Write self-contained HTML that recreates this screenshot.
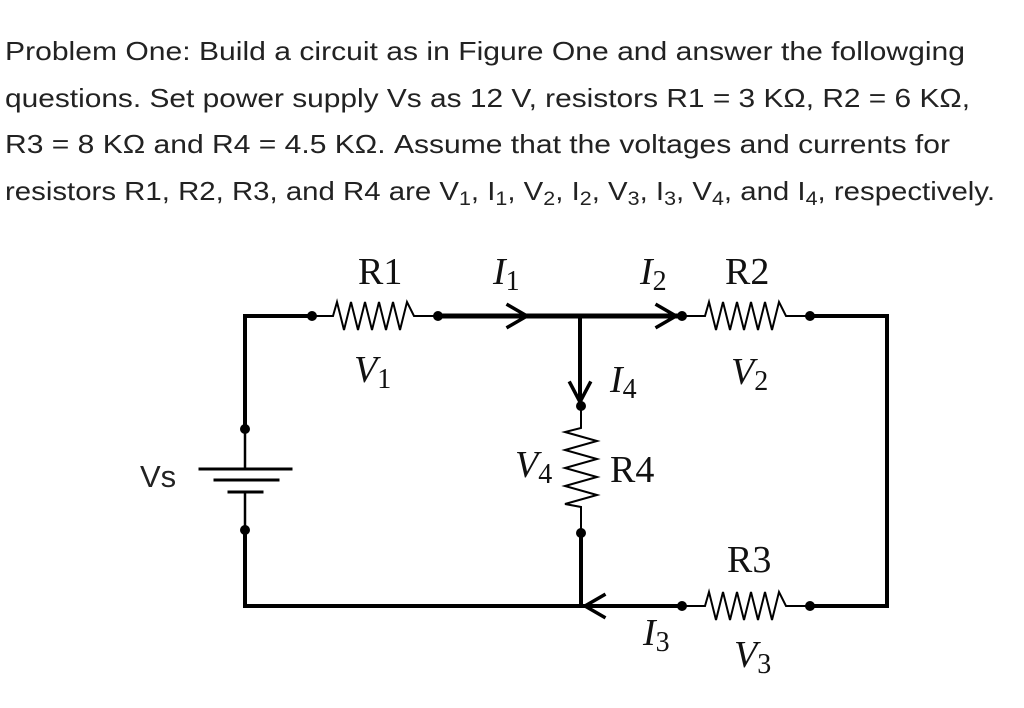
<!DOCTYPE html>
<html><head><meta charset="utf-8"><style>
body{margin:0;background:#fff;width:1024px;height:708px;overflow:hidden}
svg{display:block}
.t{font-family:"Liberation Sans",sans-serif;font-size:26px;fill:#222}
.s{font-family:"Liberation Serif",serif;font-size:38px;fill:#111}
.i{font-family:"Liberation Serif",serif;font-size:38px;font-style:italic;fill:#111}
.sub{font-style:normal;font-size:28px}
</style></head><body>
<svg width="1024" height="708" viewBox="0 0 1024 708">
<text class="t" x="5" y="60" textLength="960" lengthAdjust="spacingAndGlyphs">Problem One: Build a circuit as in Figure One and answer the followging</text>
<text class="t" x="5" y="107" textLength="965" lengthAdjust="spacingAndGlyphs">questions. Set power supply Vs as 12 V, resistors R1 = 3 KΩ, R2 = 6 KΩ,</text>
<text class="t" x="5" y="153" textLength="945" lengthAdjust="spacingAndGlyphs">R3 = 8 KΩ and R4 = 4.5 KΩ. Assume that the voltages and currents for</text>
<text class="t" x="5" y="200" textLength="990" lengthAdjust="spacingAndGlyphs">resistors R1, R2, R3, and R4 are V<tspan font-size="19" dy="5">1</tspan><tspan dy="-5">, I</tspan><tspan font-size="19" dy="5">1</tspan><tspan dy="-5">, V</tspan><tspan font-size="19" dy="5">2</tspan><tspan dy="-5">, I</tspan><tspan font-size="19" dy="5">2</tspan><tspan dy="-5">, V</tspan><tspan font-size="19" dy="5">3</tspan><tspan dy="-5">, I</tspan><tspan font-size="19" dy="5">3</tspan><tspan dy="-5">, V</tspan><tspan font-size="19" dy="5">4</tspan><tspan dy="-5">, and I</tspan><tspan font-size="19" dy="5">4</tspan><tspan dy="-5">, respectively.</tspan></text>

<g stroke="#000" fill="none" stroke-linecap="square">
<polyline points="245,429 245,316 312,316" stroke-width="4"/>
<line x1="438" y1="316" x2="682" y2="316" stroke-width="5"/>
<line x1="810" y1="316" x2="887" y2="316" stroke-width="4"/>
<line x1="887" y1="316" x2="887" y2="606" stroke-width="4"/>
<line x1="810" y1="606" x2="887" y2="606" stroke-width="4"/>
<line x1="682" y1="606" x2="245" y2="606" stroke-width="4"/>
<line x1="245" y1="606" x2="245" y2="530" stroke-width="4"/>
<line x1="580" y1="316" x2="580" y2="406" stroke-width="4"/>
<line x1="581" y1="533" x2="581" y2="606" stroke-width="4"/>
<line x1="245" y1="429" x2="245" y2="469" stroke-width="2.5"/>
<line x1="245" y1="492" x2="245" y2="530" stroke-width="2.5"/>
<line x1="200" y1="469" x2="291" y2="469" stroke-width="3"/>
<line x1="215" y1="480" x2="278" y2="480" stroke-width="3"/>
<line x1="229" y1="492" x2="262" y2="492" stroke-width="3"/>
<g stroke-width="2" stroke-linejoin="miter">
<polyline points="312,316 333,316 337,302 344,330 351,302 358,330 365,302 372,330 379,302 386,330 393,302 400,330 407,302 414,316 438,316"/>
<polyline points="682,316 705,316 709,302 716,330 723,302 730,330 737,302 744,330 751,302 758,330 765,302 772,330 779,302 786,316 810,316"/>
<polyline points="682,606 705,606 709,592 716,620 723,592 730,620 737,592 744,620 751,592 758,620 765,592 772,620 779,592 786,606 810,606"/>
<polyline points="581,406 581,428 565,432 597,441 565,450 597,459 565,468 597,477 565,486 597,495 565,504 581,507 581,533"/>
</g>
<polyline points="508,305 527,316 508,327" stroke-width="3.5"/>
<polyline points="657,305 676,316 657,327" stroke-width="3.5"/>
<polyline points="570,383 580,402 590,383" stroke-width="3.5"/>
<polyline points="604,595 585,606 604,617" stroke-width="3.5"/>
</g>
<g fill="#000">
<circle cx="312" cy="316" r="5"/><circle cx="438" cy="316" r="5"/>
<circle cx="682" cy="316" r="5"/><circle cx="810" cy="316" r="5"/>
<circle cx="682" cy="606" r="5"/><circle cx="810" cy="606" r="5"/>
<circle cx="581" cy="406" r="5"/><circle cx="581" cy="533" r="5"/>
<circle cx="245" cy="429" r="5"/><circle cx="245" cy="530" r="5"/>
</g>
<text x="140" y="487" style="font-family:'Liberation Sans',sans-serif;font-size:31px;fill:#222">Vs</text>
<text class="s" x="358" y="284">R1</text>
<text class="i" x="493" y="284">I<tspan class="sub" dy="6">1</tspan></text>
<text class="i" x="640" y="284">I<tspan class="sub" dy="6">2</tspan></text>
<text class="s" x="725" y="284">R2</text>
<text class="i" x="354" y="382">V<tspan class="sub" dy="6">1</tspan></text>
<text class="i" x="731" y="384">V<tspan class="sub" dy="6">2</tspan></text>
<text class="i" x="610" y="392">I<tspan class="sub" dy="6">4</tspan></text>
<text class="i" x="515" y="477">V<tspan class="sub" dy="6">4</tspan></text>
<text class="s" x="610" y="482">R4</text>
<text class="s" x="727" y="572">R3</text>
<text class="i" x="643" y="645">I<tspan class="sub" dy="6">3</tspan></text>
<text class="i" x="734" y="667">V<tspan class="sub" dy="6">3</tspan></text>
</svg>
</body></html>
